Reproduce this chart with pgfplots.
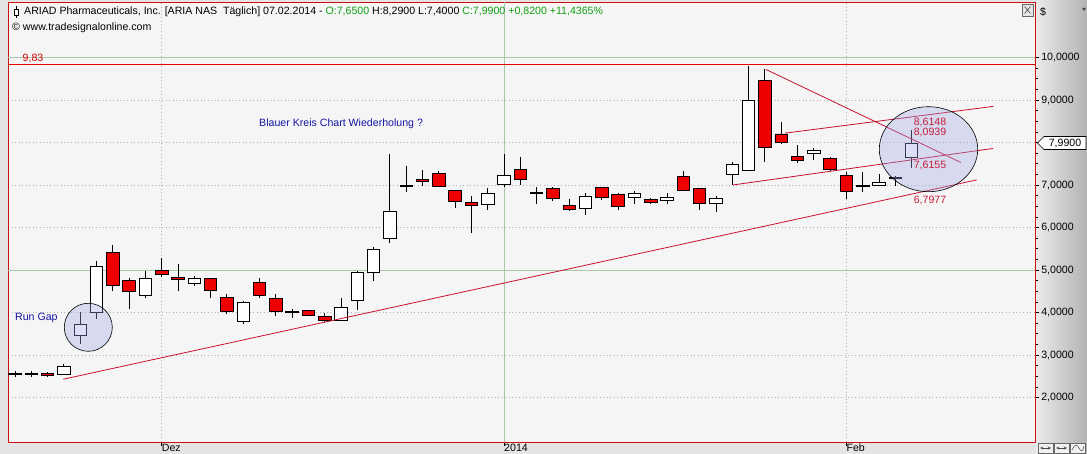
\documentclass[border=0pt]{standalone}
\usepackage{fontspec}
\setmainfont{Liberation Sans}
\usepackage{pgfplots}
\usepackage{pgfplotstable}
\pgfplotsset{compat=1.18}

\definecolor{framered}{HTML}{CC1010}
\definecolor{plotbg}{HTML}{F5F5F5}
\definecolor{outbg}{HTML}{E4E4E4}
\definecolor{gridgray}{HTML}{B0B0B0}
\definecolor{gridgreen}{HTML}{A8C8A8}
\definecolor{candlered}{HTML}{EE0000}
\definecolor{trendred}{HTML}{C8102E}
\definecolor{lblred}{HTML}{C41E3A}
\definecolor{navy}{HTML}{1414A0}
\definecolor{qtgreen}{HTML}{10A010}
\definecolor{circfill}{RGB}{160,165,230}

\newcommand\f{\fontsize{10.6}{12}\selectfont}

% daily candles, 18.11.2013 (i=0) ... 07.02.2014 (i=55)
\pgfplotstableread{
i  O    H    L    C
0  2.55 2.62 2.48 2.55
1  2.55 2.62 2.48 2.55
2  2.57 2.60 2.48 2.52
3  2.55 2.78 2.53 2.74
4  3.45 4.00 3.25 3.72
5  4.00 5.21 3.85 5.09
6  5.42 5.59 4.51 4.64
7  4.76 4.80 4.09 4.50
8  4.40 4.98 4.34 4.80
9  4.99 5.29 4.83 4.90
10 4.83 5.14 4.51 4.78
11 4.68 4.87 4.63 4.80
12 4.80 4.80 4.35 4.52
13 4.36 4.44 3.96 4.02
14 3.78 4.27 3.74 4.24
15 4.71 4.80 4.33 4.40
16 4.33 4.44 3.92 4.02
17 4.03 4.08 3.86 4.01
18 4.05 4.05 3.91 3.93
19 3.91 3.98 3.78 3.81
20 3.82 4.34 3.79 4.12
21 4.28 4.98 4.07 4.94
22 4.95 5.53 4.75 5.49
23 5.75 7.73 5.63 6.39
24 6.96 7.45 6.84 6.96
25 7.13 7.35 6.98 7.08
26 7.27 7.33 6.96 6.96
27 6.87 6.89 6.47 6.61
28 6.58 6.73 5.88 6.51
29 6.55 6.94 6.42 6.80
30 7.02 7.73 6.96 7.23
31 7.37 7.65 7.01 7.13
32 6.80 6.96 6.56 6.80
33 6.92 6.96 6.62 6.69
34 6.52 6.66 6.39 6.43
35 6.44 6.80 6.29 6.73
36 6.94 6.94 6.64 6.71
37 6.78 6.82 6.40 6.50
38 6.70 6.87 6.56 6.80
39 6.65 6.69 6.55 6.59
40 6.64 6.80 6.56 6.71
41 7.20 7.33 6.87 6.87
42 6.92 6.92 6.42 6.57
43 6.57 6.73 6.37 6.69
44 7.25 7.53 7.00 7.49
45 7.34 9.80 7.32 8.98
46 9.45 9.73 7.55 7.89
47 8.20 8.48 7.97 8.00
48 7.68 7.94 7.52 7.58
49 7.74 7.88 7.60 7.81
50 7.63 7.67 7.33 7.37
51 7.23 7.30 6.66 6.85
52 6.99 7.30 6.84 6.97
53 7.00 7.27 7.00 7.07
54 7.15 7.20 6.98 7.15
55 7.65 8.29 7.40 7.99
}\candles

\pgfplotsset{
  base/.style={at={(8pt,12pt)}, anchor=south west, scale only axis,
    width=1027pt, height=440pt,
    xmin=-0.4294, xmax=62.577, ymin=0.9529, ymax=11.306},
}

\begin{document}
\begin{tikzpicture}[x=1pt,y=1pt]
\path[use as bounding box] (0,0) rectangle (1087,454);
\clip (0,0) rectangle (1087,454);
\fill[outbg] (0,0) rectangle (1087,454);
\shade[left color=white!92!black, right color=white!70!black] (1036,0) rectangle (1087,454);

% frame, grid, wicks
\begin{axis}[base,
  axis background/.style={fill=plotbg},
  axis line style={draw=framered, line width=0.9pt},
  tick align=outside, major tick length=4pt, minor tick length=3pt,
  tick style={black, line width=0.6pt},
  xtick pos=bottom, ytick pos=right, yticklabel pos=right,
  xtick={9,30,51}, xticklabels={Dez,2014,Feb},
  xticklabel style={font=\f, anchor=north west, inner sep=0pt, yshift=2pt},
  ytick={2,3,...,10}, minor y tick num=3,
  yticklabels={{2,0000},{3,0000},{4,0000},{5,0000},{6,0000},{7,0000},{},{9,0000},{10,0000}},
  yticklabel style={font=\f, anchor=west, inner sep=2pt},
  grid=major,
  major grid style={draw=gridgray, dash pattern=on 1pt off 2.5pt, line width=0.6pt},
]
\addplot[gridgreen, line width=0.8pt] coordinates {(30,0.9529) (30,11.306)};
\addplot[gridgreen, line width=0.8pt] coordinates {(-0.43,5) (62.58,5)};
\addplot[gridgreen, line width=0.8pt] coordinates {(-0.43,10) (62.58,10)};
\addplot[only marks, mark=*, mark size=0pt, mark options={draw=none, fill=none},
  error bars/.cd, y dir=both, y explicit, error mark=none,
  error bar style={draw=black, line width=0.9pt}]
  table[x=i, y expr={(\thisrow{H}+\thisrow{L})/2}, y error expr={(\thisrow{H}-\thisrow{L})/2}] {\candles};
\end{axis}

% candle bodies (a flat candle gets a 1px body, so it shows as a cross)
\begin{axis}[base, hide axis, ybar stacked, bar width=12.5pt]
\addplot[draw=none, fill=none] table[x=i, y expr={min(\thisrow{O},\thisrow{C})}] {\candles};
\addplot[draw=black, fill=white, line width=0.8pt] table[x=i, y expr={(\thisrow{C}>=\thisrow{O})*max(\thisrow{C}-\thisrow{O},0.02)}] {\candles};
\addplot[draw=black, fill=candlered, line width=0.8pt] table[x=i, y expr={max(\thisrow{O}-\thisrow{C},0)}] {\candles};
\end{axis}

% drawn lines
\begin{axis}[base, hide axis]
\addplot[red!90!black, line width=0.9pt] coordinates {(-0.43,9.83) (62.58,9.83)};
\addplot[trendred, line width=0.8pt] coordinates {(2.96,2.43) (59.0,7.12)};
\addplot[trendred, line width=0.8pt] coordinates {(44.03,7.00) (60.0,7.86)};
\addplot[trendred, line width=0.8pt] coordinates {(47.24,8.22) (60.02,8.85)};
\addplot[trendred, line width=0.8pt] coordinates {(46.06,9.72) (58.02,7.53)};
\end{axis}

% blue circles
\filldraw[fill=circfill, fill opacity=0.35, draw=black, line width=0.6pt] (88.3,126.7) circle (24);
\filldraw[fill=circfill, fill opacity=0.35, draw=black, line width=0.6pt] (928.5,304.8) ellipse (49.2 and 42.5);

% texts
\draw[black, line width=0.7pt] (16,436) -- (16,448);
\draw[black, fill=white, line width=0.6pt] (14,439) rectangle (18,445);
\node[anchor=west, inner sep=0, font=\f] at (24,442)
  {ARIAD Pharmaceuticals, Inc. [ARIA NAS\ \ Täglich] 07.02.2014 - \textcolor{qtgreen}{O:7,6500} H:8,2900 L:7,4000 \textcolor{qtgreen}{C:7,9900 +0,8200 +11,4365\%}};
\node[anchor=west, inner sep=0, font=\f] at (12,426) {© www.tradesignalonline.com};
\node[font=\f, text=red!85!black] at (33,396) {9,83};
\node[anchor=west, inner sep=0, font=\f, text=navy] at (259,330.5) {Blauer Kreis Chart Wiederholung ?};
\node[anchor=west, inner sep=0, font=\f, text=navy] at (15,136) {Run Gap};
\node[font=\f, text=lblred, inner sep=0] at (930,331.3) {8,6148};
\node[font=\f, text=lblred, inner sep=0] at (930,321.7) {8,0939};
\node[font=\f, text=lblred, inner sep=0] at (930,288.3) {7,6155};
\node[font=\f, text=lblred, inner sep=0] at (930,253.3) {6,7977};

% right scale extras
\node[anchor=west, inner sep=0, font=\f] at (1040,442) {\$};
\fill[black!70] (1082,446) -- (1086,446) -- (1084,443) -- cycle;
\filldraw[fill=white, draw=black, line width=0.6pt]
  (1037.5,311) -- (1044,317.5) -- (1086,317.5) -- (1086,304.5) -- (1044,304.5) -- cycle;
\node[font=\f, inner sep=0] at (1065,311) {7,9900};
\filldraw[fill=white!90!black, draw=black!60, line width=0.5pt] (1022,438) rectangle (1033,450);
\draw[black!70, line width=0.6pt] (1024.5,440.5) -- (1030.5,447.5) (1024.5,447.5) -- (1030.5,440.5);
\foreach \xx in {1038,1054,1070} {
  \filldraw[fill=white!95!black, draw=black!60, line width=0.5pt] (\xx,1) rectangle (\xx+15,11);
}
\draw[black!70, line width=0.5pt, <->, >=stealth] (1040,6) -- (1051,6);
\draw[black!70, line width=0.5pt, <->, >=stealth] (1056,6) -- (1067,6);
\draw[black!70, line width=0.5pt] (1072,4) .. controls (1075,10) and (1077,10) .. (1079,6) .. controls (1081,2) and (1083,2) .. (1084,8);
\end{tikzpicture}
\end{document}
